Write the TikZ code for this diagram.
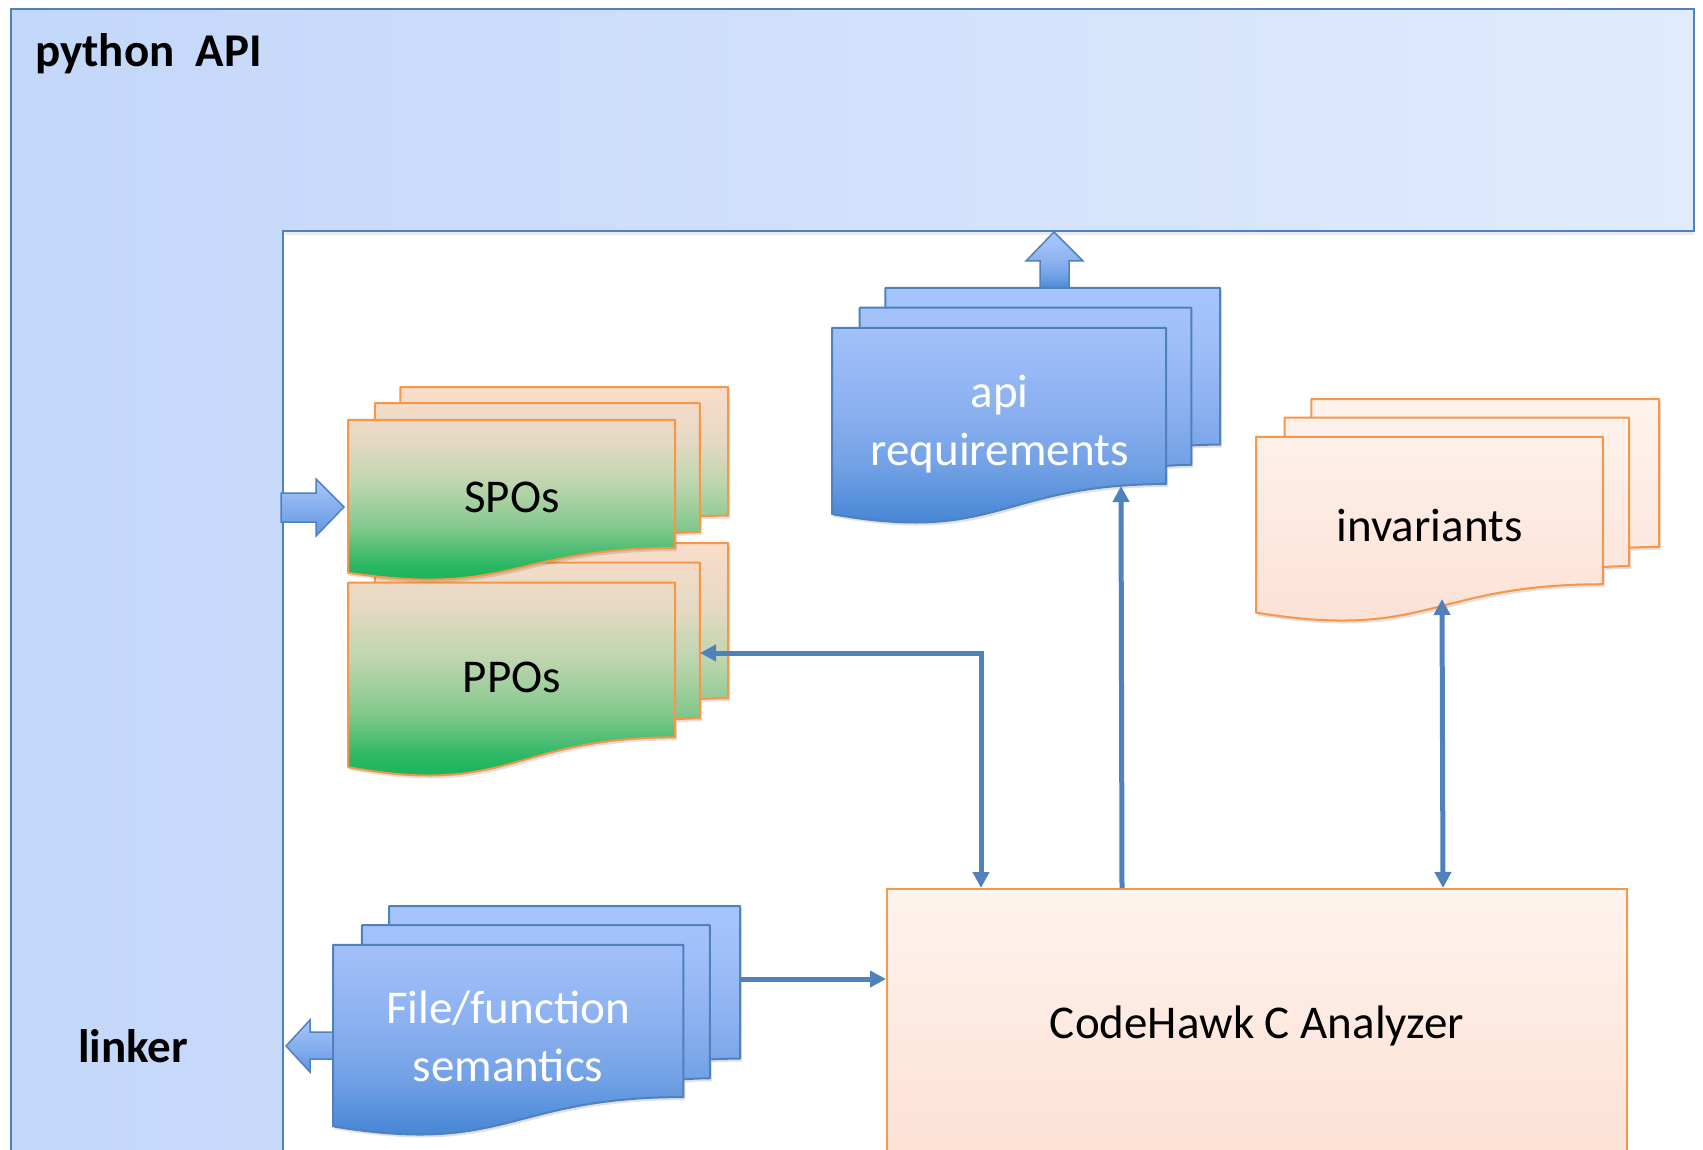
\documentclass[tikz,border=0pt]{standalone}
\usepackage{fontspec}
\setmainfont{Carlito}
\usetikzlibrary{arrows.meta}
\definecolor{edgeblue}{HTML}{4F81BD}
\definecolor{lineblue}{HTML}{4F81BD}
\definecolor{edgeorange}{HTML}{F79646}
\definecolor{Lleft}{HTML}{C3D7FA}
\definecolor{Lright}{HTML}{E0EBFD}
\definecolor{pchTop}{HTML}{FEF3EE}
\definecolor{pchBot}{HTML}{FCE0D3}
\definecolor{gA}{HTML}{00B050}
\definecolor{gB}{HTML}{2DB865}
\definecolor{gC}{HTML}{86C98E}
\definecolor{gD}{HTML}{BDD5AE}
\definecolor{gE}{HTML}{E4D9C2}
\definecolor{gF}{HTML}{FADDCB}
\definecolor{bA}{HTML}{3B7CCF}
\definecolor{bB}{HTML}{4A88D6}
\definecolor{bC}{HTML}{74A2E6}
\definecolor{bD}{HTML}{8CB1F0}
\definecolor{bE}{HTML}{A0BFF8}
\definecolor{bF}{HTML}{A6C5FC}
\definecolor{arTop}{HTML}{A9C7FC}
\definecolor{arBot}{HTML}{6296E0}
\pgfdeclareverticalshading{greendoc}{100bp}{color(0bp)=(gA); color(25bp)=(gA); color(33bp)=(gB); color(42bp)=(gC); color(52bp)=(gD); color(62bp)=(gE); color(75bp)=(gF); color(100bp)=(gF)}
\pgfdeclareverticalshading{bluedoc}{100bp}{color(0bp)=(bA); color(25bp)=(bA); color(30bp)=(bB); color(41bp)=(bC); color(52bp)=(bD); color(65bp)=(bE); color(75bp)=(bF); color(100bp)=(bF)}
\pgfdeclareverticalshading{peachdoc}{100bp}{color(0bp)=(pchBot); color(25bp)=(pchBot); color(75bp)=(pchTop); color(100bp)=(pchTop)}
\pgfdeclareverticalshading{bluearrow}{100bp}{color(0bp)=(arBot); color(25bp)=(arBot); color(75bp)=(arTop); color(100bp)=(arTop)}
\tikzset{
  mdpath/.style={insert path={(0,0.9621) .. controls (0.4305,1.0899) and (0.4305,0.8344) .. (0.8609,0.8344) -- (0.8609,0.1701) -- (0,0.1701) -- cycle
    (0.0709,0.1701) -- (0.0709,0.0840) -- (0.9259,0.0840) -- (0.9259,0.7524) .. controls (0.8934,0.7524) and (0.8609,0.7570) .. (0.8609,0.7570) -- (0.8609,0.1701) -- cycle
    (0.1376,0.0840) -- (0.1376,0) -- (1,0) -- (1,0.6663) .. controls (0.9630,0.6663) and (0.9259,0.6698) .. (0.9259,0.6698) -- (0.9259,0.0840) -- cycle}},
  lbl/.style={inner sep=0pt, font=\fontsize{47}{58}\selectfont},
  conn/.style={draw=lineblue, line width=5pt},
  blockarrow/.style={shading=bluearrow, draw=edgeblue, line width=1.5pt, line join=miter},
  softshadow/.style={fill=black, opacity=0.12},
}
\newcommand\multidoc[6]{\begin{scope}[shift={(#1,#2)},x={(#3pt,0pt)},y={(0pt,-#4pt)}]
  \begin{scope}[shift={(2pt,-3pt)}]\fill[softshadow, mdpath];\end{scope}
  \shade[shading=#5, mdpath];
  \draw[draw=#6, line width=2pt, line join=round, mdpath];
\end{scope}}
\begin{document}
\begin{tikzpicture}[x=1pt,y=-1pt, >={Triangle[width=16pt,length=16pt]}]
\useasboundingbox (0,0) rectangle (1703,1150);
\fill[white] (0,0) rectangle (1703,1150);
\begin{scope}
\clip (0,0) rectangle (1703,1150);
% python API / linker frame
\shade[left color=Lleft, right color=Lright] (11,9) -- (1694,9) -- (1694,231) -- (283,231) -- (283,1170) -- (11,1170) -- cycle;
\fill[black, opacity=0.08] (285,231) rectangle (1694,235);
\draw[edgeblue, line width=2pt] (11,9) -- (1694,9) -- (1694,231) -- (283,231) -- (283,1170) -- (11,1170) -- cycle;
% block arrows
\shadedraw[blockarrow] (281,493) -- (316,493) -- (316,479) -- (344,507) -- (316,536) -- (316,522) -- (281,522) -- cycle;
\shadedraw[blockarrow, shading=bluedoc] (1054,232) -- (1083,261) -- (1069,261) -- (1069,295) -- (1040,295) -- (1040,261) -- (1026,261) -- cycle;
\shadedraw[blockarrow] (345,1032) -- (310,1032) -- (310,1020) -- (286,1046) -- (310,1072) -- (310,1059) -- (345,1059) -- cycle;
% document stacks
\multidoc{348}{543}{380}{233}{greendoc}{edgeorange}
\multidoc{348}{387}{380}{193}{greendoc}{edgeorange}
\multidoc{832}{288}{388}{235}{bluedoc}{edgeblue}
\multidoc{1256}{399}{403}{222}{peachdoc}{edgeorange}
\multidoc{333}{906}{407}{229}{bluedoc}{edgeblue}
% analyzer
\node[lbl, anchor=north west, minimum width=740pt, text height=149pt, text depth=123pt,
      top color=pchTop, bottom color=pchBot, draw=edgeorange, line width=2pt] (chc) at (886,888) {CodeHawk C Analyzer};
% labels
\node[lbl, font=\fontsize{47}{58}\selectfont\bfseries, anchor=base west] (pyapi) at (35,67) {python\ \ API};
\node[lbl, font=\fontsize{47}{58}\selectfont\bfseries, anchor=base west] (linker) at (78,1062) {linker};
\node[lbl, anchor=base] (spos) at (512,512) {SPOs};
\node[lbl, anchor=base] (ppos) at (512,692) {PPOs};
\node[lbl, anchor=base, text=white, align=center] (apireq) at (999.5,465) {api\\requirements};
\node[lbl, anchor=base] (inv) at (1429.5,541) {invariants};
\node[lbl, anchor=base, text=white, align=center] (filesem) at (508,1081) {File/function\\semantics};
% connector ends
\coordinate (pposR) at (700,653);
\coordinate (apiB) at (1121,486);
\coordinate (invB) at (1442,599);
\coordinate (fileR) at (740,979);
\draw[conn,<->] (pposR) -| ([xshift=-276pt]chc.north);
\draw[conn,->] ([xshift=-135pt]chc.north) -- (apiB);
\draw[conn,<->] ([xshift=186pt]chc.north) -- (invB);
\draw[conn,->] (fileR) -- (fileR -| chc.west);
\end{scope}
\end{tikzpicture}
\end{document}
